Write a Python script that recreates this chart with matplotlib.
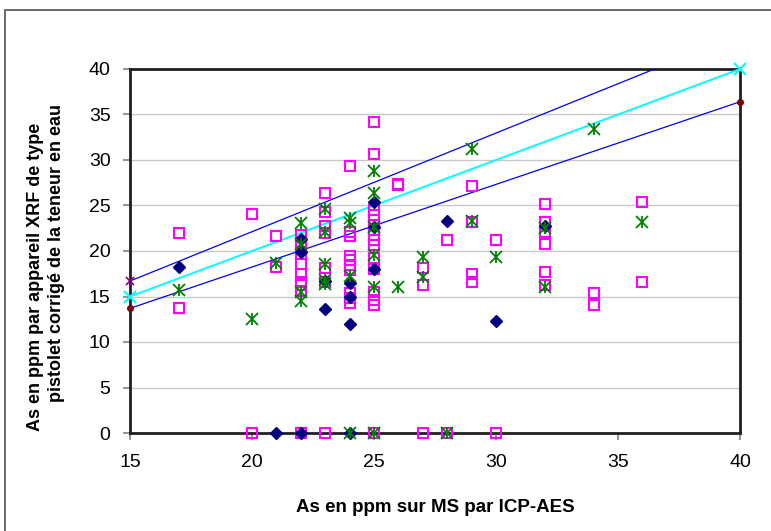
import matplotlib
matplotlib.use("Agg")
import matplotlib.pyplot as plt
from matplotlib.patches import Rectangle
from matplotlib.transforms import Bbox, TransformedBbox

plt.rcParams["font.family"] = ["Liberation Sans", "DejaVu Sans"]

# navy diamonds
dia_x = [17, 21, 22, 22, 22, 23, 23, 24, 24, 24, 24, 25, 25, 25, 28, 30, 32]
dia_y = [18.2, 0, 0, 21.3, 19.9, 16.7, 13.6, 0, 16.5, 15.0, 12.0, 25.4, 22.6, 18.0, 23.3, 12.3, 22.7]

# magenta open squares
sq_x = [17, 17, 20, 20, 21, 21,
        22, 22, 22, 22, 22, 22, 22, 22, 22, 22,
        23, 23, 23, 23, 23, 23, 23,
        24, 24, 24, 24, 24, 24, 24, 24, 24, 24,
        25, 25, 25, 25, 25, 25, 25, 25, 25, 25, 25, 25, 25, 25, 25, 25,
        26, 26, 27, 27, 27, 28, 28, 29, 29, 29, 29, 30, 30,
        32, 32, 32, 32, 32, 32, 34, 34, 36, 36]
sq_y = [22.0, 13.7, 24.1, 0, 21.6, 18.2,
        21.8, 21.0, 20.5, 19.7, 18.6, 17.5, 16.6, 16.3, 15.6, 0,
        26.4, 24.3, 22.7, 22.0, 18.1, 16.6, 0,
        29.3, 22.1, 21.7, 19.5, 19.0, 18.5, 17.9, 15.4, 14.8, 14.3,
        34.2, 30.7, 24.5, 24.0, 23.4, 22.9, 22.3, 21.8, 21.2, 20.7, 19.2, 18.0, 15.5, 14.6, 14.1, 0,
        27.4, 27.2, 18.1, 16.3, 0, 21.2, 0, 27.1, 23.2, 17.5, 16.6, 21.2, 0,
        25.2, 23.2, 22.1, 20.8, 17.7, 16.3, 15.4, 14.1, 25.4, 16.6]

# green asterisks
st_x = [17, 20, 21, 22, 22, 22, 22, 23, 23, 23, 23, 23, 24, 24, 24, 24,
        25, 25, 25, 25, 25, 25, 26, 27, 27, 28, 29, 29, 30, 32, 32, 34, 36]
st_y = [15.7, 12.5, 18.7, 23.1, 20.8, 15.5, 14.5, 24.6, 22.1, 18.6, 16.8, 16.4, 23.6, 23.1, 17.2, 0,
        28.8, 26.4, 22.6, 19.6, 16.0, 0, 16.0, 19.3, 17.1, 0, 31.2, 23.3, 19.3, 22.5, 16.0, 33.4, 23.2]

# reference lines (endpoints)
line_x = [15, 40]
upper_y = [16.7, 43.8]
mid_y = [15, 40]
lower_y = [13.7, 36.4]

fig = plt.figure(figsize=(7.71, 5.31), dpi=100)
ax = fig.add_axes([130 / 771, 1 - 433 / 531, 610 / 771, 364 / 531])

# outer frame
fig.patches.append(Rectangle((5 / 771, -0.1), 1.0, 1 - 10 / 531 + 0.1, transform=fig.transFigure,
                             fill=False, edgecolor="#505050", linewidth=1.2))

# lines (clipped), then their end markers (unclipped)
ax.plot(line_x, upper_y, color="#0000FF", lw=0.9, zorder=3)
ax.plot(line_x, mid_y, color="#00FFFF", lw=1.4, zorder=3)
ax.plot(line_x, lower_y, color="#0000FF", lw=0.9, zorder=3)
ax.plot(line_x, upper_y, ls="none", marker="x", ms=6, mec="#800080", mew=1.2, markevery=[0],
        zorder=7, clip_on=False)
ax.plot(line_x, upper_y, ls="none", marker="|", ms=6, mec="#800080", mew=1.0, markevery=[0],
        zorder=7, clip_on=False)
ax.plot(line_x, mid_y, ls="none", marker="x", ms=9, mec="#00FFFF", mew=1.5, zorder=7, clip_on=False)
ax.plot(line_x, lower_y, ls="none", marker="o", ms=4, mfc="#800000", mec="#800000", zorder=7,
        clip_on=False)

ax.plot(sq_x, sq_y, ls="none", marker="s", ms=7.5, mfc="none", mec="#FF00FF", mew=1.5, zorder=4, clip_on=False)
ax.plot(dia_x, dia_y, ls="none", marker="D", ms=6, mfc="#000080", mec="#000080", zorder=5, clip_on=False)
ax.plot(st_x, st_y, ls="none", marker="x", ms=8, mec="#008000", mew=1.3, zorder=6, clip_on=False)
ax.plot(st_x, st_y, ls="none", marker="|", ms=9, mec="#008000", mew=1.3, zorder=6, clip_on=False)

ax.set_xlim(15, 40)
ax.set_ylim(0, 40)
ax.set_xticks(range(15, 41, 5))
ax.set_yticks(range(0, 41, 5))
ax.grid(axis="y", color="#c8c8c8", lw=1)
ax.set_axisbelow(True)
for s in ax.spines.values():
    s.set_linewidth(2)
    s.set_color("#202020")
ax.tick_params(direction="out", length=5, width=1.2, color="#808080", labelsize=14)
ax.tick_params(axis="x", pad=10)
ax.tick_params(axis="y", pad=9)

ax.set_xlabel("As en ppm sur MS par ICP-AES", fontsize=13.5, fontweight="bold", labelpad=20)

# y label: two rotated lines, clipped at the top like the original
clip = TransformedBbox(Bbox([[0, 0], [0.16, 1 - 100 / 531]]), fig.transFigure)
l1 = fig.text(35 / 771, 1 - 431 / 531, "As en ppm par appareil XRF de type",
              rotation=90, rotation_mode="anchor", ha="left", va="center",
              fontsize=13, fontweight="bold")
l2 = fig.text(57 / 771, 1 - 104 / 531, "pistolet corrigé de la teneur en eau",
              rotation=90, rotation_mode="anchor", ha="right", va="center",
              fontsize=13, fontweight="bold")
for t in (l1, l2):
    t.set_clip_box(clip)
    t.set_clip_on(True)

fig.savefig("out.png", dpi=100)
